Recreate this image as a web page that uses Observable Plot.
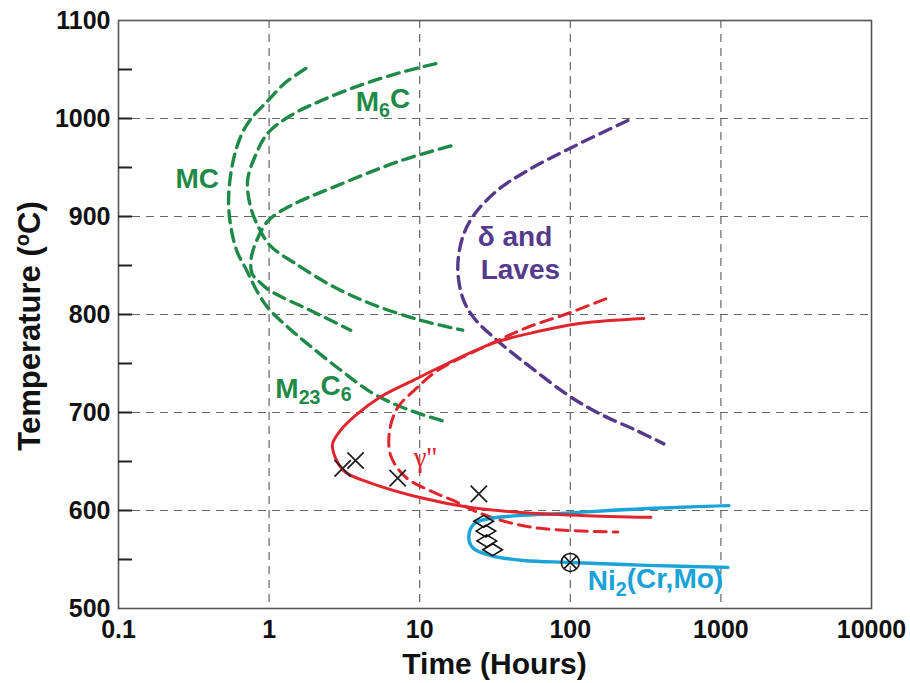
<!DOCTYPE html>
<html><head><meta charset="utf-8">
<script src="https://cdn.jsdelivr.net/npm/d3@7"></script>
<script src="https://cdn.jsdelivr.net/npm/@observablehq/plot@0.6"></script>
<style>body{margin:0;background:#fff}</style>
</head><body><div id="chart"></div>
<script>
// ---- data: [time (hours), temperature (°C)] ----
const curveMC = [[1.75,1051],[1.27,1036],[0.98,1018],[0.79,1003],[0.677,988],[0.6,967],[0.555,942],[0.538,916],[0.555,891],[0.61,865],[0.71,845],[0.83,824],[0.98,807],[1.29,789],[1.8,770],[3.0,743],[4.95,719],[8.7,702],[15.3,690]];
const curveM6C = [[12.8,1056],[7.5,1047],[4.05,1034],[2.2,1018],[1.39,1003],[0.98,985],[0.81,962],[0.72,937],[0.75,911],[0.84,891],[1.02,870],[1.46,853],[2.56,830],[4.73,811],[10.2,794],[19.3,784]];
const curveM23C6 = [[16.1,972],[7.5,957],[2.68,930],[1.39,911],[0.99,896],[0.83,876],[0.76,857],[0.77,842],[0.88,832],[1.02,824],[1.89,804],[3.48,784]];
const curveDelta = [[241,998],[100.7,970],[52.2,947],[33.0,927],[22.8,901],[19.3,879],[17.9,848],[19.3,817],[22.8,797],[33.0,773],[54.7,746],[98,717],[160,698],[272,682],[418,668]];
const curveGammaP = [[308,796],[117.5,791],[54.7,781],[31.0,771],[15.3,750],[9.12,733],[5.51,716],[3.75,697],[2.99,682],[2.64,668],[2.77,653],[3.22,639],[4.73,628],[10.2,613],[21.8,603],[46.9,598],[117.5,595],[343,593]];
const curveGammaPP = [[172,816],[96,801],[52.2,787],[29.6,770],[13.2,743],[9.12,722],[7.14,705],[6.32,682],[6.42,656],[8.07,634],[11.8,620],[16.8,610],[25.4,597],[54.7,583],[207,578]];
const curveNi2 = [[1130,605],[327,602],[86.5,597],[29.6,592],[23.2,587],[21.2,574],[22.5,562],[29.6,554],[49.1,549],[100.7,547],[327,544],[1112,542]];
const crossPoints = [[3.08,643],[3.75,651],[7.14,633],[24.7,617]];
const diamondPoints = [[26.6,589],[27.5,579],[27.9,569],[30.5,560]];
const circleXPoints = [[100,547]];
const labels = [
  {text:"MC", time:0.239, temp:938, series:"green"},
  {text:"M6C", time:3.76, temp:1017, series:"green"},
  {text:"M23C6", time:1.10, temp:724, series:"green"},
  {text:"δ and", time:24.3, temp:879, series:"purple"},
  {text:"Laves", time:25.4, temp:845, series:"purple"},
  {text:"Ni2(Cr,Mo)", time:130.7, temp:528, series:"cyan"}
];
const gammaLabel = [{text:"γ''", time:9.12, temp:654}];
const xTicks = [0.1,1,10,100,1000,10000];
const xTickLabels = ["0.1","1","10","100","1000","10000"];
const yTicks = [500,600,700,800,900,1000,1100];
const yTickLabels = ["500","600","700","800","900","1000","1100"];
const yMinorTicks = [550,600,650,700,750,800,850,900,950,1000,1050];
const xGrid = [1,10,100,1000];
const yGrid = [600,700,800,900,1000];

// ---- styles ----
const C = {green:"#1f8a47", purple:"#553a8c", red:"#e0262d", cyan:"#1ba3d8"};
const W = 910, H = 683, mL = 118, mR = 39, mT = 20, mB = 75;
const plotW = W - mL - mR;
const xLab = new Map(xTicks.map((t,i)=>[t,xTickLabels[i]]));
const yLab = new Map(yTicks.map((t,i)=>[t,yTickLabels[i]]));
const X = d => d[0], Y = d => d[1];
const dashed = {strokeWidth:3.4, strokeDasharray:"12,7", curve:"catmull-rom"};
const squashDiamond = {draw(ctx, size){const s=Math.sqrt(size/Math.PI);ctx.moveTo(-1.4*s,0);ctx.lineTo(0,-0.85*s);ctx.lineTo(1.4*s,0);ctx.lineTo(0,0.85*s);ctx.closePath();}};
const font = "'Liberation Sans', Arial, Helvetica, sans-serif";

const chart = Plot.plot({
  width: W, height: H,
  marginLeft: mL, marginRight: mR, marginTop: mT, marginBottom: mB,
  style: {fontFamily: font, background: "#fff"},
  x: {type: "log", domain: [0.1, 10000]},
  y: {domain: [500, 1100]},
  color: {type: "identity"},
  marks: [
    Plot.gridX(xGrid, {stroke:"#666", strokeOpacity:1, strokeWidth:1.2, strokeDasharray:"8,6"}),
    Plot.gridY(yGrid, {stroke:"#666", strokeOpacity:1, strokeWidth:1.2, strokeDasharray:"8,6"}),
    Plot.line(curveMC, {x:X, y:Y, stroke:C.green, ...dashed}),
    Plot.line(curveM6C, {x:X, y:Y, stroke:C.green, ...dashed}),
    Plot.line(curveM23C6, {x:X, y:Y, stroke:C.green, ...dashed}),
    Plot.line(curveDelta, {x:X, y:Y, stroke:C.purple, ...dashed}),
    Plot.line(curveGammaPP, {x:X, y:Y, stroke:C.red, ...dashed, strokeWidth:3}),
    Plot.line(curveNi2, {x:X, y:Y, stroke:C.cyan, strokeWidth:3.4, curve:"catmull-rom"}),
    Plot.line(curveGammaP, {x:X, y:Y, stroke:C.red, strokeWidth:3, curve:"catmull-rom"}),
    Plot.dot(crossPoints, {x:X, y:Y, symbol:"times", r:7.5, stroke:"#222", strokeWidth:1.8, fill:"none"}),
    Plot.dot(diamondPoints, {x:X, y:Y, symbol:squashDiamond, r:7, stroke:"#111", strokeWidth:1.6, fill:"none"}),
    Plot.dot(circleXPoints, {x:X, y:Y, symbol:"circle", r:9, stroke:"#111", strokeWidth:1.6, fill:"none"}),
    Plot.dot(circleXPoints, {x:X, y:Y, symbol:"times", r:5.7, stroke:"#111", strokeWidth:1.6, fill:"none"}),
    Plot.text(labels, {x:"time", y:"temp", text:"text", fill:d=>C[d.series], fontSize:28, fontWeight:"bold", textAnchor:"start"}),
    Plot.text(gammaLabel, {x:"time", y:"temp", text:"text", fill:C.red, fontSize:29, fontFamily:"'Liberation Serif', 'DejaVu Serif', serif", textAnchor:"start"}),
    Plot.frame({stroke:"#555", strokeWidth:1.6}),
    Plot.tickY(yMinorTicks, {y:d=>d, stroke:"#222", strokeWidth:2, insetRight: plotW - 14}),
    Plot.axisX(xTicks, {tickSize:0, tickPadding:12, tickFormat:d=>xLab.get(d), fontSize:25, fontWeight:"bold", fill:"#111", label:null}),
    Plot.axisY(yTicks, {tickSize:0, tickPadding:8, tickFormat:d=>yLab.get(d), fontSize:25, fontWeight:"bold", fill:"#111", label:null})
  ]
});
document.getElementById("chart").appendChild(chart);

// rich text (subscripts) for chemical labels
const rich = {"M6C":[["M"],["6",1],["C"]], "M23C6":[["M"],["23",1],["C"],["6",1]], "Ni2(Cr,Mo)":[["Ni"],["2",1],["(Cr,Mo)"]]};
const svg = d3.select(chart);
svg.selectAll("text").each(function(){
  const parts = rich[this.textContent];
  if (!parts) return;
  const el = d3.select(this); el.text(null);
  let prev = false;
  for (const [s, sub] of parts) {
    const sp = el.append("tspan").text(s);
    const isSub = !!sub;
    if (isSub !== prev) sp.attr("dy", isSub ? "0.3em" : "-0.3em");
    if (isSub) sp.attr("font-size", "70%");
    prev = isSub;
  }
});

// axis titles
svg.append("text").attr("x", mL + plotW/2).attr("y", H - 9)
  .attr("text-anchor","middle").attr("font-size",30).attr("font-weight","bold").attr("fill","#111")
  .text("Time (Hours)");
const yt = svg.append("text").attr("transform", `translate(40,${mT + (H-mT-mB)/2 + 12}) rotate(-90)`)
  .attr("text-anchor","middle").attr("font-size",31).attr("font-weight","bold").attr("fill","#111");
yt.append("tspan").text("Temperature (");
yt.append("tspan").text("o").attr("font-size","65%").attr("dy","-0.55em");
yt.append("tspan").text("C)").attr("dy","0.36em");
</script></body></html>
